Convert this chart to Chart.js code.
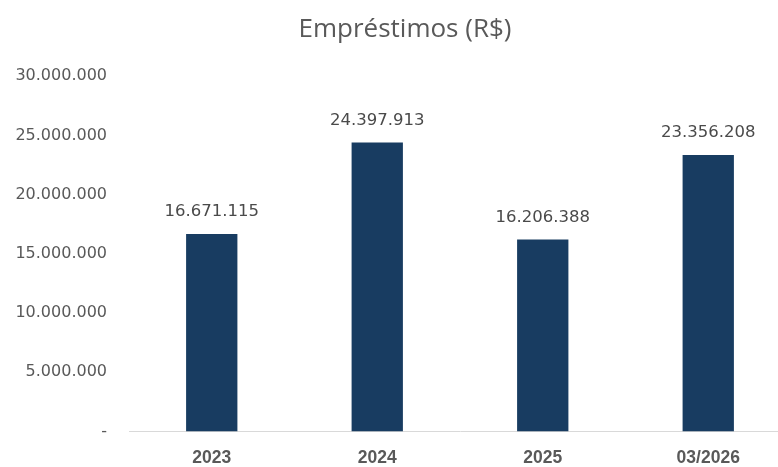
<!DOCTYPE html>
<html lang="pt-BR">
<head>
    <meta charset="UTF-8">
    <title>Empréstimos (R$)</title>
    <script src="https://cdn.jsdelivr.net/npm/chart.js"></script>
    <style>
        html, body {
            margin: 0;
            padding: 0;
            background: #ffffff;
            overflow: hidden;
        }
        #wrap {
            width: 778px;
            height: 467px;
            overflow: hidden;
        }
        #box {
            width: 810px;
            height: 467px;
        }
    </style>
</head>
<body>
    <div id="wrap"><div id="box"><canvas id="loansChart"></canvas></div></div>

    <script>
        const categories = ['2023', '2024', '2025', '03/2026'];
        const loanValues = [16671115, 24397913, 16206388, 23356208];
        const yTicks = [0, 5000000, 10000000, 15000000, 20000000, 25000000, 30000000];

        // 16671115 -> "16.671.115"
        function fmtBR(v) {
            if (v === 0) return '-';
            return String(Math.round(v)).replace(/\B(?=(\d{3})+(?!\d))/g, '.');
        }

        // draws the value above every bar
        const barValues = {
            id: 'barValues',
            afterDatasetsDraw(chart) {
                const ctx = chart.ctx;
                const meta = chart.getDatasetMeta(0);
                ctx.save();
                ctx.font = '16.5px "DejaVu Sans", sans-serif';
                ctx.fillStyle = '#4a4a4a';
                ctx.textAlign = 'center';
                ctx.textBaseline = 'middle';
                meta.data.forEach((bar, i) => {
                    ctx.fillText(fmtBR(loanValues[i]), bar.x, bar.y - 22);
                });
                ctx.restore();
            }
        };

        // nudge the title so it is centred on the whole chart, not the padded box
        const titleShift = {
            id: 'titleShift',
            afterLayout(chart) {
                if (chart.titleBlock) chart.titleBlock.left += 19;
            }
        };

        const ctx = document.getElementById('loansChart').getContext('2d');
        new Chart(ctx, {
            type: 'bar',
            data: {
                labels: categories,
                datasets: [{
                    label: 'Empréstimos',
                    data: loanValues,
                    backgroundColor: '#183C61',
                    borderWidth: 0,
                    barPercentage: 0.31,
                    categoryPercentage: 1
                }]
            },
            options: {
                responsive: true,
                maintainAspectRatio: false,
                animation: false,
                layout: {
                    padding: { top: 0, right: 19, bottom: 0, left: 0 }
                },
                plugins: {
                    legend: { display: false },
                    tooltip: { enabled: false },
                    title: {
                        display: true,
                        text: 'Empréstimos (R$)',
                        color: '#595959',
                        font: { family: '"Open Sans"', size: 26, weight: 'normal', lineHeight: 1.2 },
                        padding: { top: 14, bottom: 31 }
                    }
                },
                scales: {
                    x: {
                        afterFit(scale) {
                            scale.height = 35.5;
                        },
                        grid: { display: false, drawTicks: false },
                        border: { display: true, color: '#d9d9d9', width: 1 },
                        ticks: {
                            color: '#595959',
                            padding: 16,
                            font: { family: '"Liberation Sans", Arial, sans-serif', size: 17.5, weight: 'bold' }
                        }
                    },
                    y: {
                        min: 0,
                        max: 30000000,
                        afterBuildTicks(scale) {
                            scale.ticks = yTicks.map(v => ({ value: v }));
                        },
                        afterFit(scale) {
                            scale.width = 129;
                        },
                        grid: { display: false, drawTicks: false },
                        border: { display: false },
                        ticks: {
                            color: '#595959',
                            padding: 22,
                            font: { family: '"DejaVu Sans", sans-serif', size: 16 },
                            callback: v => fmtBR(v)
                        }
                    }
                }
            },
            plugins: [barValues, titleShift]
        });
    </script>
</body>
</html>
